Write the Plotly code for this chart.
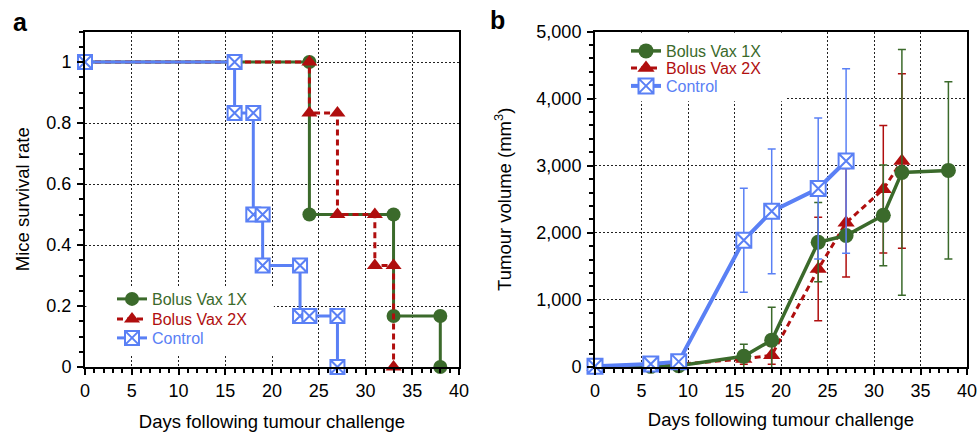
import plotly.graph_objects as go

# ---------------- Data ----------------
series_names = ["Bolus Vax 1X", "Bolus Vax 2X", "Control"]

# Panel a: survival (Kaplan-Meier step points)
surv_days_1x = [0, 24, 24, 33, 33, 38, 38]
surv_rate_1x = [1, 1, 0.5, 0.5, 0.167, 0.167, 0]
surv_days_2x = [0, 24, 24, 27, 27, 31, 31, 33, 33]
surv_rate_2x = [1, 1, 0.833, 0.833, 0.5, 0.5, 0.333, 0.333, 0]
surv_days_ctl = [0, 16, 16, 18, 18, 19, 19, 23, 23, 24, 27, 27]
surv_rate_ctl = [1, 1, 0.833, 0.833, 0.5, 0.5, 0.333, 0.333, 0.167, 0.167, 0.167, 0]

# Panel b: tumour volume (mm^3) with error bars
vol_days_1x = [0, 6, 9, 16, 19, 24, 27, 31, 33, 38]
vol_1x = [0, 10, 20, 160, 400, 1860, 1960, 2260, 2900, 2930]
err_1x = [0, 0, 0, 180, 490, 590, 0, 750, 1830, 1320]
vol_days_2x = [0, 6, 9, 16, 19, 24, 27, 31, 33]
vol_2x = [0, 20, 40, 120, 175, 1460, 2150, 2650, 3070]
err_2x = [0, 0, 0, 80, 135, 770, 810, 950, 1300]
vol_days_ctl = [0, 6, 9, 16, 19, 24, 27]
vol_ctl = [10, 45, 80, 1890, 2320, 2660, 3070]
err_ctl = [0, 0, 0, 775, 930, 1050, 1375]

x_ticks = [0, 5, 10, 15, 20, 25, 30, 35, 40]
surv_ticks = [0, 0.2, 0.4, 0.6, 0.8, 1]
surv_tick_text = ["0", "0.2", "0.4", "0.6", "0.8", "1"]
vol_ticks = [0, 1000, 2000, 3000, 4000, 5000]
vol_tick_text = ["0", "1,000", "2,000", "3,000", "4,000", "5,000"]

# ---------------- Styles ----------------
GREEN = "#3b6a2b"
RED = "#b00e0e"
BLUE = "#5a80f5"
FONT = "Liberation Sans, Arial, sans-serif"

W, H = 978, 432


def px_x(p):
    return p / W


def px_y(p):
    return 1 - p / H


def colored(name, color):
    return f"<span style='color:{color}'>{name}</span>"


fig = go.Figure()

# ---- Panel a traces (draw order: green, red, blue) ----
fig.add_trace(go.Scatter(
    x=surv_days_1x, y=surv_rate_1x, mode="lines+markers", name=colored(series_names[0], GREEN),
    line=dict(color=GREEN, width=3), marker=dict(symbol="circle", size=14, color=GREEN),
    xaxis="x", yaxis="y", legend="legend", cliponaxis=False))
fig.add_trace(go.Scatter(
    x=surv_days_2x, y=surv_rate_2x, mode="lines+markers", name=colored(series_names[1], RED),
    line=dict(color=RED, width=3, dash="6px,4px"), marker=dict(symbol="triangle-up", size=14, color=RED),
    xaxis="x", yaxis="y", legend="legend2", cliponaxis=False))
fig.add_trace(go.Scatter(
    x=surv_days_ctl, y=surv_rate_ctl, mode="lines+markers", name=colored(series_names[2], BLUE),
    line=dict(color=BLUE, width=3),
    marker=dict(symbol="square-x", size=14, color="white", line=dict(color=BLUE, width=2)),
    xaxis="x", yaxis="y", legend="legend3", cliponaxis=False))

# ---- Panel b traces (draw order: red, green, blue) ----
fig.add_trace(go.Scatter(
    x=vol_days_2x, y=vol_2x, mode="lines+markers", name=colored(series_names[1], RED),
    line=dict(color=RED, width=3, dash="6px,4px"), marker=dict(symbol="triangle-up", size=15, color=RED),
    error_y=dict(type="data", array=err_2x, color=RED, thickness=1.5, width=4),
    xaxis="x2", yaxis="y2", legend="legend5", cliponaxis=False))
fig.add_trace(go.Scatter(
    x=vol_days_1x, y=vol_1x, mode="lines+markers", name=colored(series_names[0], GREEN),
    line=dict(color=GREEN, width=3.5), marker=dict(symbol="circle", size=15, color=GREEN),
    error_y=dict(type="data", array=err_1x, color=GREEN, thickness=1.5, width=4),
    xaxis="x2", yaxis="y2", legend="legend4", cliponaxis=False))
fig.add_trace(go.Scatter(
    x=vol_days_ctl, y=vol_ctl, mode="lines+markers", name=colored(series_names[2], BLUE),
    line=dict(color=BLUE, width=4),
    marker=dict(symbol="square-x", size=15, color="white", line=dict(color=BLUE, width=2)),
    error_y=dict(type="data", array=err_ctl, color=BLUE, thickness=1.5, width=4),
    xaxis="x2", yaxis="y2", legend="legend6", cliponaxis=False))

axis_common = dict(
    showline=True, linecolor="black", linewidth=2, mirror=True,
    showgrid=True, gridcolor="#222", gridwidth=1.2, griddash="2px,2px",
    zeroline=False, ticks="outside", ticklen=6, tickwidth=2, tickcolor="black",
    tickfont=dict(size=18, color="black", family=FONT),
    automargin=False,
)
minor_common = dict(ticks="outside", ticklen=4, tickwidth=1.5, tickcolor="black", showgrid=False)

dom_a = [px_x(85), px_x(459)]
dom_b = [px_x(595), px_x(967)]
dom_y = [px_y(367), px_y(31.5)]

legend_common = dict(
    bgcolor="rgba(0,0,0,0)", borderwidth=0, xanchor="left", yanchor="top",
    font=dict(size=16, family=FONT), itemclick=False,
)

# legend tops (px) chosen so that item centres sit where the reference shows them
leg_a_x, leg_b_x = 112, 626
leg_a_tops = [282, 302, 321]
leg_b_tops = [34, 51, 69]

fig.update_layout(
    width=W, height=H, margin=dict(l=0, r=0, t=0, b=0),
    paper_bgcolor="white", plot_bgcolor="white",
    font=dict(family=FONT, color="black"),
    xaxis=dict(domain=dom_a, range=[0, 40], tickvals=x_ticks, anchor="y",
               minor=dict(dtick=1, **minor_common),
               title=dict(text="Days following tumour challenge", font=dict(size=18.5), standoff=15),
               **axis_common),
    yaxis=dict(domain=dom_y, range=[0, 1.1], tickvals=surv_ticks, ticktext=surv_tick_text, anchor="x",
               minor=dict(dtick=0.05, **minor_common), ticklabelstandoff=2,
               title=dict(text="Mice survival rate", font=dict(size=18.5), standoff=12),
               **axis_common),
    xaxis2=dict(domain=dom_b, range=[0, 40], tickvals=x_ticks, anchor="y2",
                minor=dict(dtick=1, **minor_common),
                title=dict(text="Days following tumour challenge", font=dict(size=18.5), standoff=13),
                **axis_common),
    yaxis2=dict(domain=dom_y, range=[0, 5000], tickvals=vol_ticks, ticktext=vol_tick_text, anchor="x2",
                minor=dict(dtick=200, **minor_common), ticklabelstandoff=2,
                title=dict(text="Tumour volume (mm<sup>3</sup>)", font=dict(size=18.5), standoff=20),
                **axis_common),
    legend=dict(x=px_x(leg_a_x), y=px_y(leg_a_tops[0]), **legend_common),
    legend2=dict(x=px_x(leg_a_x), y=px_y(leg_a_tops[1]), **legend_common),
    legend3=dict(x=px_x(leg_a_x), y=px_y(leg_a_tops[2]), **legend_common),
    legend4=dict(x=px_x(leg_b_x), y=px_y(leg_b_tops[0]), **legend_common),
    legend5=dict(x=px_x(leg_b_x), y=px_y(leg_b_tops[1]), **legend_common),
    legend6=dict(x=px_x(leg_b_x), y=px_y(leg_b_tops[2]), **legend_common),
    showlegend=True,
)

# white legend boxes hiding gridlines (drawn above grid, below traces)
fig.add_shape(type="rect", xref="x", yref="y", x0=0.15, x1=20.2, y0=0.04, y1=0.26,
              fillcolor="white", line=dict(width=0), layer="between")
fig.add_shape(type="rect", xref="x2", yref="y2", x0=0.15, x1=20.5, y0=3960, y1=4980,
              fillcolor="white", line=dict(width=0), layer="between")

fig.add_annotation(text="<b>a</b>", x=px_x(20), y=px_y(22), xref="paper", yref="paper",
                   xanchor="center", yanchor="middle",
                   showarrow=False, font=dict(size=25, color="black", family=FONT))
fig.add_annotation(text="<b>b</b>", x=px_x(498), y=px_y(20), xref="paper", yref="paper",
                   xanchor="center", yanchor="middle",
                   showarrow=False, font=dict(size=25, color="black", family=FONT))

fig.write_html("out.html")
